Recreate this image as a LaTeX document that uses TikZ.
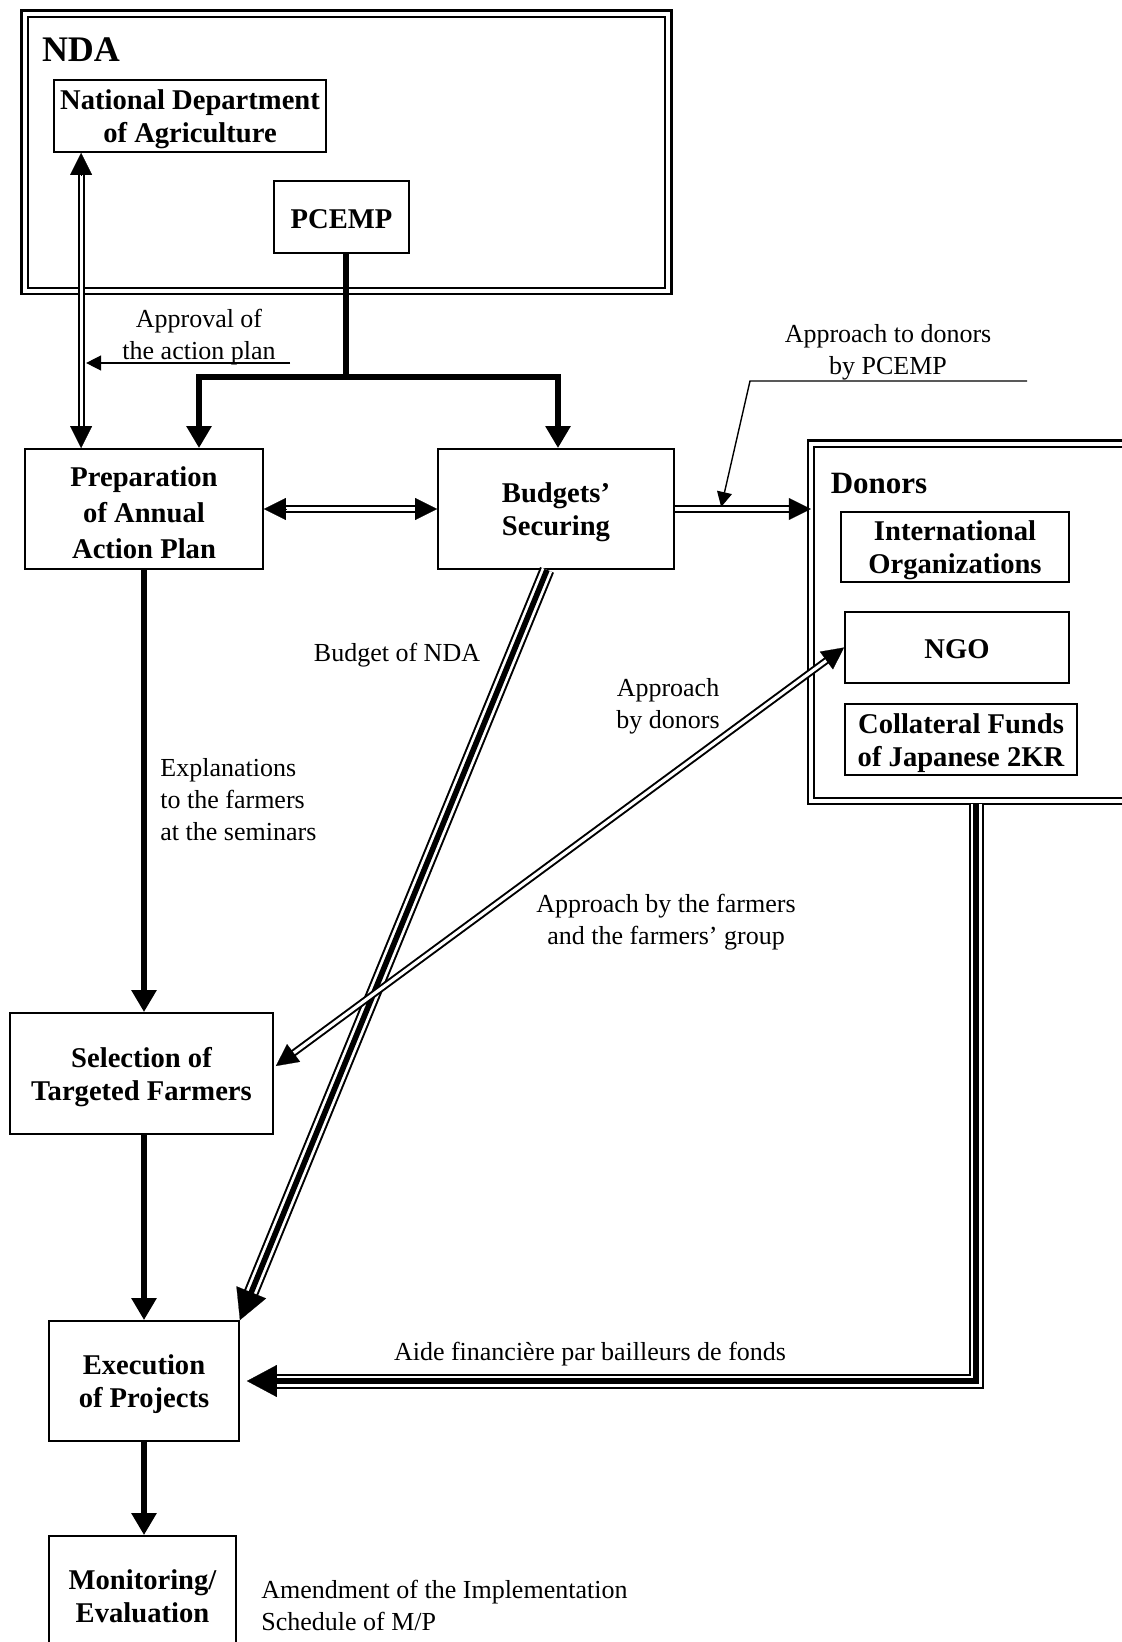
\documentclass[tikz,border=0pt]{standalone}
\usepackage{fontspec}
\setmainfont{Liberation Serif}
\usetikzlibrary{arrows.meta,calc}
\newcommand\boxtup{\rule{0pt}{13.4pt}}
\newcommand\boxtus{\rule{0pt}{11.6pt}}
\begin{document}
\begin{tikzpicture}[x=0.5pt,y=-0.5pt,
  box/.style={draw,line width=0.9pt,align=center,inner sep=0pt,
    font=\bfseries\fontsize{14.3}{16.5}\selectfont},
  lbl/.style={align=center,inner sep=0pt,font=\fontsize{13}{16}\selectfont},
  frame/.style={draw,double=white,double distance=2pt,line width=1.2pt,inner sep=0pt},
  thickline/.style={line width=3.2pt},
  thickarr/.style={line width=3.2pt,-{Triangle[length=11pt,width=12pt]}},
  dblline/.style={draw=black,double=white,double distance=1.6pt,line width=1pt},
  tipM/.style={line width=0.1pt,-{Triangle[length=11pt,width=11pt]}},
  tripout/.style={draw=black,double=white,double distance=5.5pt,line width=1pt},
  tripmid/.style={line width=2.8pt},
  tipL/.style={line width=0.1pt,-{Triangle[length=15pt,width=16pt]}},
  thinarr/.style={line width=0.7pt,-{Triangle[length=7.5pt,width=7.5pt]}}
]
\useasboundingbox (0,0) rectangle (1122,1642);
\clip (0,0) rectangle (1122,1642);

% ---------- nodes ----------
\node[frame,minimum width=321.9pt,minimum height=138.6pt] (nda) at (346.5,152.5) {};
\node[inner sep=0pt,font=\bfseries\fontsize{18}{20}\selectfont] (ndalbl) at (81,50) {NDA};
\node[box,minimum width=136pt,minimum height=36pt] (natdept) at (190,116) {\boxtup National Department\\of Agriculture};
\node[box,minimum width=67.5pt,minimum height=36pt] (pcemp) at (341.5,217) {\boxtus PCEMP};
\node[box,minimum width=119pt,minimum height=60pt,font=\bfseries\fontsize{14.3}{18}\selectfont] (prep) at (144,509) {\boxtup Preparation\\of Annual\\Action Plan};
\node[box,minimum width=118pt,minimum height=60pt] (bud) at (556,509) {\boxtup Budgets’\\Securing};
\node[frame,line width=1.1pt,minimum width=164.5pt,minimum height=178.75pt] (donors) at (975.5,622.25) {};
\node[inner sep=0pt,font=\bfseries\fontsize{15.5}{18}\selectfont] (donlbl) at (879,484) {Donors};
\node[box,minimum width=114pt,minimum height=35pt] (intorg) at (955,547) {\boxtup International\\Organizations};
\node[box,minimum width=112pt,minimum height=35.5pt] (ngo) at (957,647.5) {\boxtus NGO};
\node[box,minimum width=116pt,minimum height=35.5pt] (coll) at (961,739.5) {\boxtup Collateral Funds\\of Japanese 2KR};
\node[box,minimum width=131.5pt,minimum height=60.5pt] (sel) at (141.5,1073.5) {\boxtup Selection of\\Targeted Farmers};
\node[box,minimum width=95pt,minimum height=60pt] (exe) at (144,1381) {\boxtup Execution\\of Projects};
\node[box,minimum width=93.5pt,minimum height=60pt] (mon) at (142.5,1596) {Monitoring/\\Evaluation};

% ---------- labels ----------
\node[lbl] (lapp) at (199,337.5) {Approval of\\the action plan};
\node[lbl] (lapd) at (888,352) {Approach to donors\\by PCEMP};
\node[lbl] (lbnda) at (397,655.5) {Budget of NDA};
\node[lbl] (lbyd) at (668,706.5) {Approach\\by donors};
\node[lbl,align=left,anchor=west] (lexp) at (160,800) {Explanations\\to the farmers\\at the seminars};
\node[lbl] (lfarm) at (666,922.5) {Approach by the farmers\\and the farmers’ group};
\node[lbl] (laide) at (590,1354) {Aide financière par bailleurs de fonds};
\node[lbl,align=left,anchor=west] (lamd) at (261,1605) {Amendment of the Implementation\\Schedule of M/P};

% ---------- connectors ----------
% National Department <-> Preparation
\coordinate (a1) at ($(natdept.south west)+(28,0)$);
\coordinate (a2) at (a1 |- prep.north);
\draw[dblline,shorten <=10pt,shorten >=10pt] (a1) -- (a2);
\draw[tipM] ($(a1)!11pt!(a2)$) -- (a1);
\draw[tipM] ($(a2)!11pt!(a1)$) -- (a2);

% Approval of the action plan
\coordinate (ap1) at (290,363);
\draw[thinarr] (ap1) -- ($(ap1 -| a1)+(5,0)$);

% PCEMP trunk
\coordinate (tj) at (346,377);
\draw[thickline] (pcemp.south -| tj) -- (tj);
\draw[thickarr] (tj) -| ($(prep.north)+(55,0)$);
\draw[thickarr] (tj) -| ($(bud.north)+(2,0)$);

% Preparation <-> Budgets
\draw[dblline,shorten <=10pt,shorten >=10pt] (prep.east) -- (bud.west);
\draw[tipM] ($(prep.east)!11pt!(bud.west)$) -- (prep.east);
\draw[tipM] ($(bud.west)!11pt!(prep.east)$) -- (bud.west);

% Budgets -> Donors
\coordinate (dl) at ($(bud.east -| donors.west)+(1,0)$);
\draw[dblline,shorten >=10pt] (bud.east) -- (dl);
\draw[tipM] ($(dl)!11pt!(bud.east)$) -- (dl);

% Approach to donors by PCEMP callout
\coordinate (ct) at ($(bud.east)!0.34!(dl)+(0,-2)$);
\coordinate (cs) at (1027,381);
\draw[thinarr] (cs) -- (750,381) -- (ct);

% Budget of NDA (triple)
\coordinate (b1) at ($(bud.south)+(-9,0)$);
\draw[tripout,shorten >=14pt] (b1) -- (exe.north east);
\draw[tripmid,shorten >=14pt] (b1) -- (exe.north east);
\draw[tipL] ($(exe.north east)!15pt!(b1)$) -- (exe.north east);

% vertical flow
\draw[thickarr] (prep.south) -- (prep.south |- sel.north);
\draw[thickarr] (sel.south -| exe.north) -- (exe.north);
\draw[thickarr] (exe.south) -- (exe.south |- mon.north);

% Selection <-> NGO
\coordinate (s1) at ($(sel.east)+(2,-7.5)$);
\draw[dblline,shorten <=10pt,shorten >=10pt] (s1) -- (ngo.west);
\draw[tipM] ($(s1)!11pt!(ngo.west)$) -- (s1);
\draw[tipM] ($(ngo.west)!11pt!(s1)$) -- (ngo.west);

% Donors -> Execution (triple)
\coordinate (dc) at (976,1381);
\coordinate (d0) at ($(dc |- donors.south)+(0,2)$);
\coordinate (e1) at ($(exe.east)+(7,0)$);
\draw[tripout,shorten >=14pt] (d0) -- (dc) -- (e1);
\draw[tripmid,shorten >=14pt] (d0) -- (dc) -- (e1);
\draw[tipL] ($(e1)!15pt!(dc)$) -- (e1);
\end{tikzpicture}
\end{document}
